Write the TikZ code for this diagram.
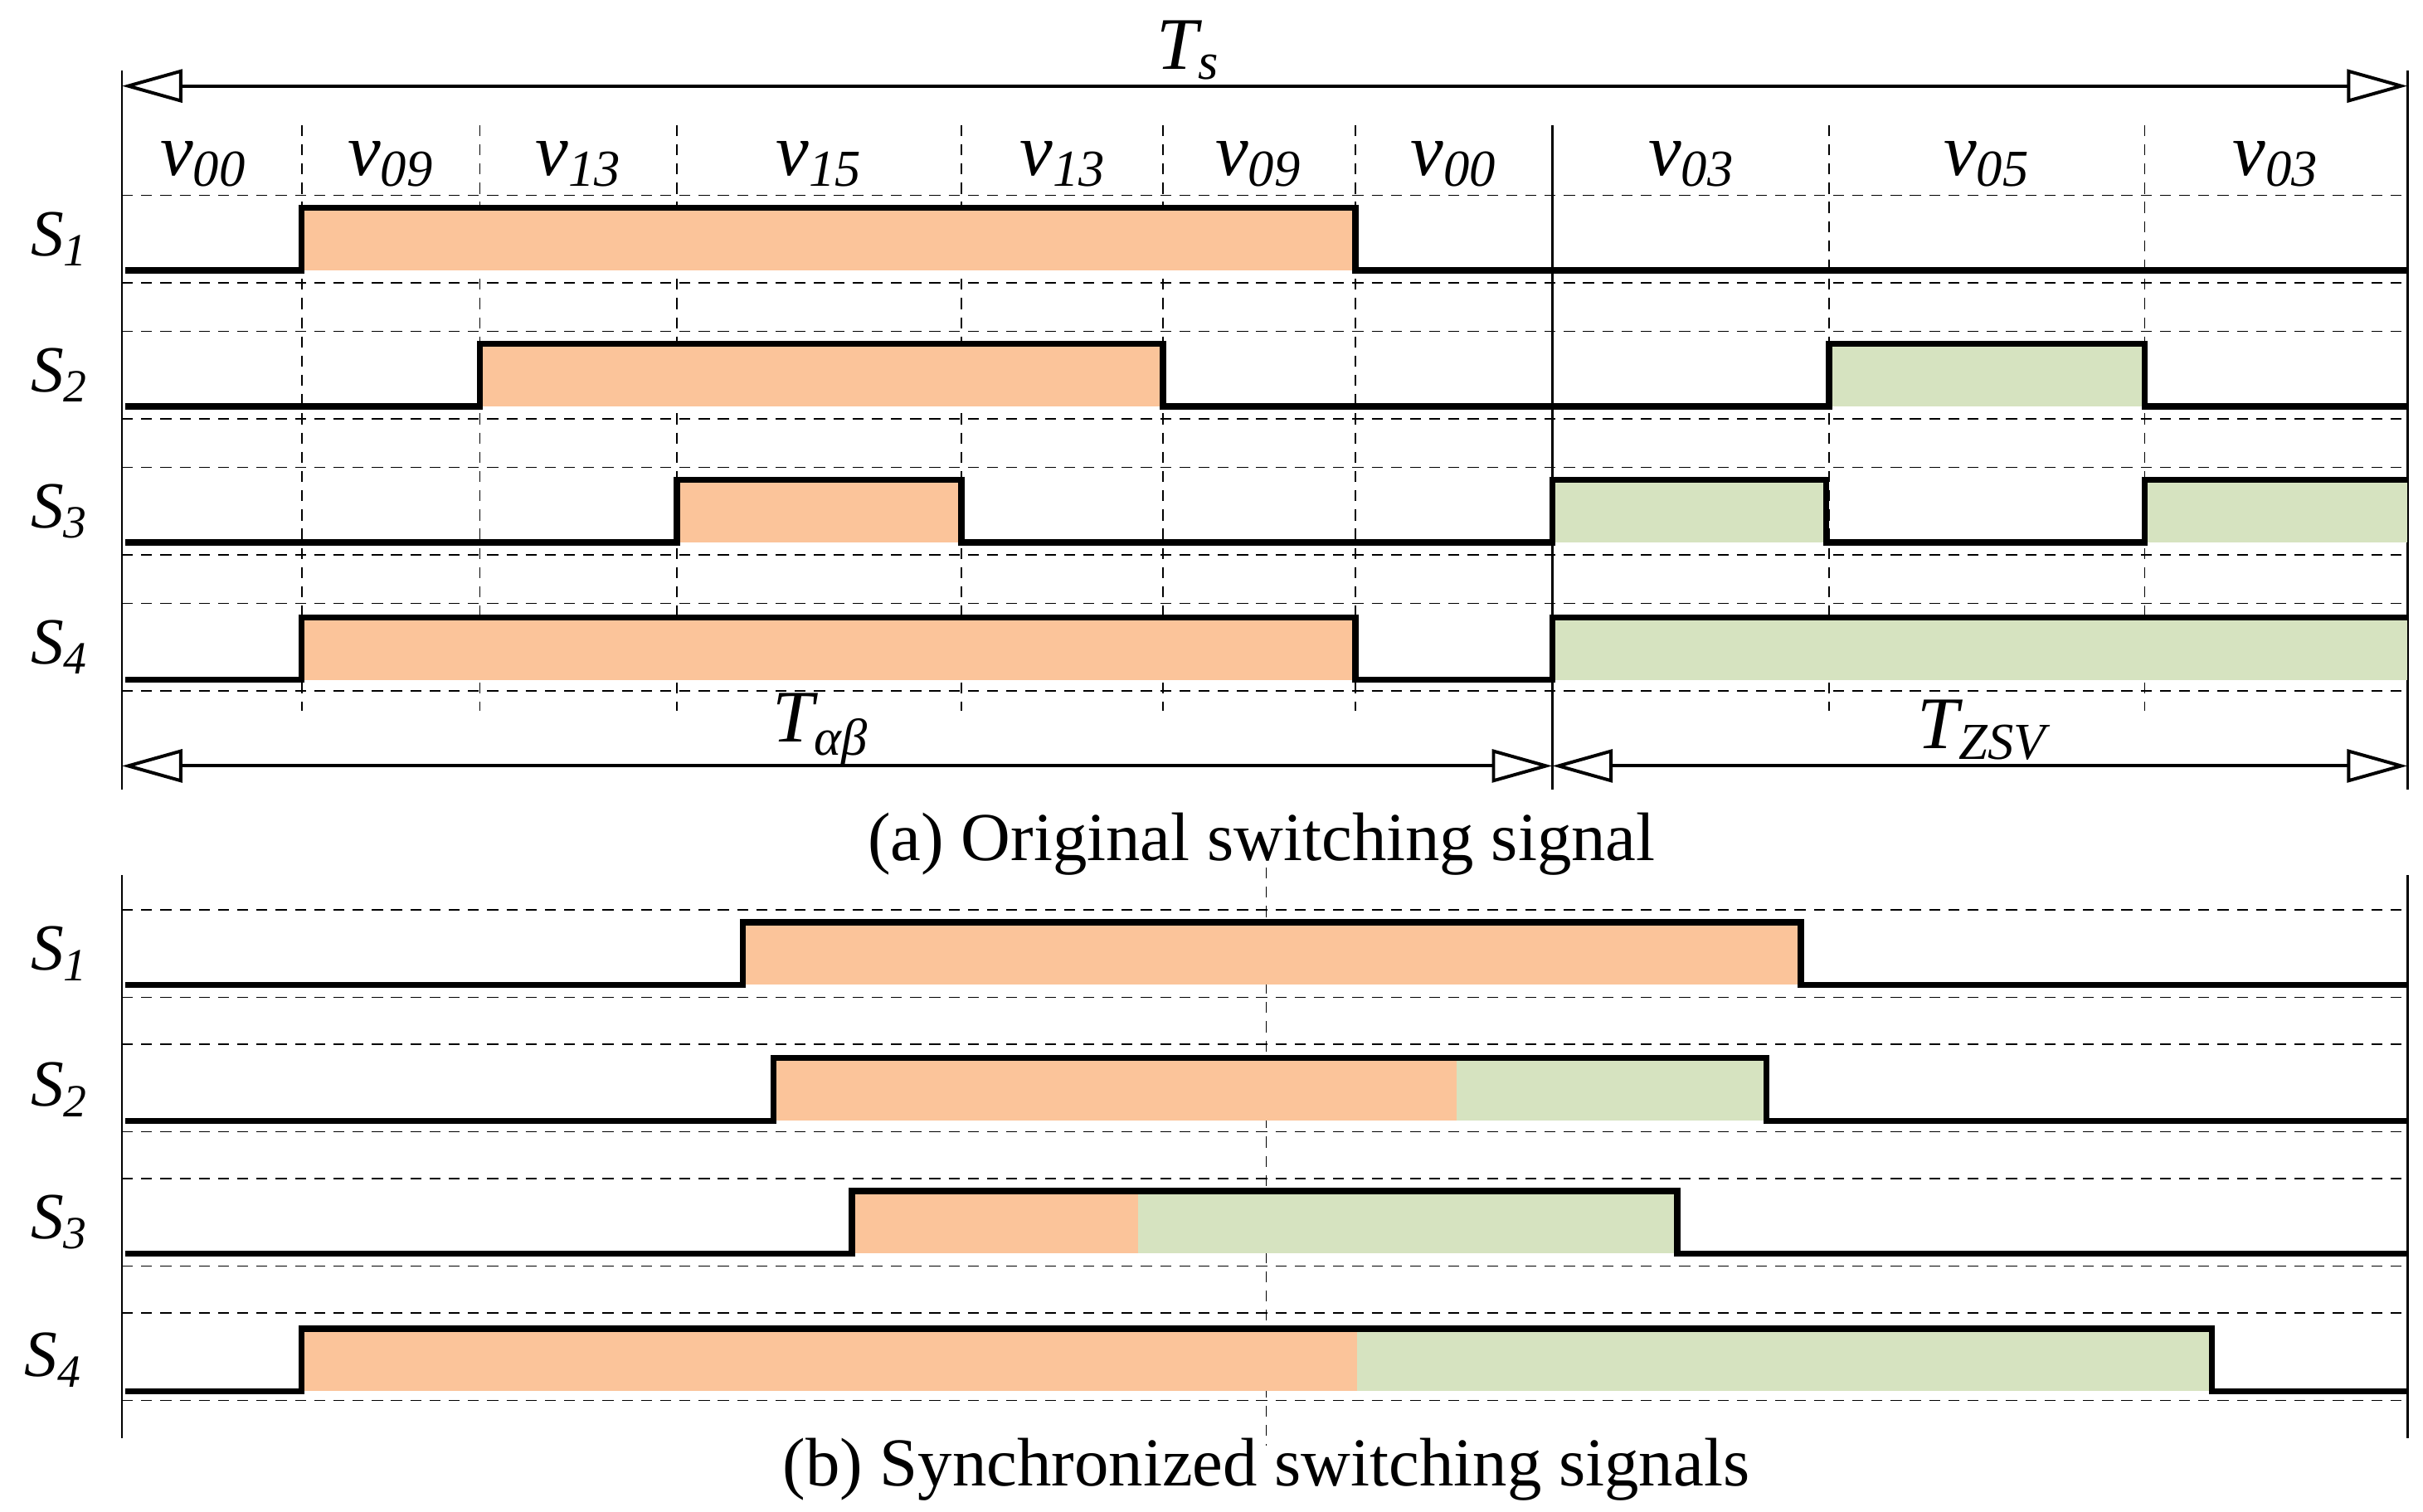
\documentclass[tikz,border=0pt]{standalone}
\usepackage{fontspec}
\setmainfont{Liberation Serif}
\usetikzlibrary{arrows.meta}
\definecolor{onorange}{RGB}{251,196,154}
\definecolor{zsvgreen}{RGB}{214,227,192}
\begin{document}
\begin{tikzpicture}[x=0.02cm, y=-0.02cm]
    \tikzstyle{grid} = [black, line width=0.5pt, dash pattern=on 4pt off 3pt];
    \tikzstyle{frame} = [thick];
    \tikzstyle{signal} = [line width=2.2pt, line join=miter];
    \tikzstyle{span} = [line width=1.2pt, {Triangle[open,length=22pt,width=12pt]}-{Triangle[open,length=22pt,width=12pt]}];
    \tikzstyle{sig-label} = [font=\fontsize{24}{24}\selectfont\itshape];
    \tikzstyle{vec-label} = [font=\fontsize{27}{27}\selectfont\itshape];
    \tikzstyle{caption} = [font=\fontsize{25}{25}\selectfont];
    \useasboundingbox (0,0) rectangle (1550,967);

    % (a) original switching signal
    \draw [frame] (78,45) -- (78,505);
    \draw [frame] (1540,45) -- (1540,505);
    \draw [frame] (993,80) -- (993,505);
    \foreach \x in {193,307,433,615,744,867,1170,1372}
        \draw [grid] (\x,80) -- (\x,455);
    \foreach \y in {0,1,2,3} {
        \draw [grid] (78,125+87*\y) -- (1540,125+87*\y);
        \draw [grid] (78,181+87*\y) -- (1540,181+87*\y);
    }
    \fill [onorange] (193,133) rectangle (867,173);
    \fill [onorange] (307,220) rectangle (744,260);
    \fill [zsvgreen] (1170,220) rectangle (1372,260);
    \fill [onorange] (433,307) rectangle (615,347);
    \fill [zsvgreen] (993,307) rectangle (1168,347);
    \fill [zsvgreen] (1372,307) rectangle (1540,347);
    \fill [onorange] (193,395) rectangle (867,435);
    \fill [zsvgreen] (993,395) rectangle (1540,435);
    \draw [signal] (80,173) -| (193,133) -| (867,173) -- (1540,173);
    \draw [signal] (80,260) -| (307,220) -| (744,260) -| (1170,220) -| (1372,260) -- (1540,260);
    \draw [signal] (80,347) -| (433,307) -| (615,347) -| (993,307) -| (1168,347) -| (1372,307) -- (1540,307);
    \draw [signal] (80,435) -| (193,395) -| (867,435) -| (993,395) -- (1540,395);

    \node [vec-label] (va-1) at (130,105) {v\textsubscript{00}};
    \node [vec-label] (va-2) at (250,105) {v\textsubscript{09}};
    \node [vec-label] (va-3) at (370,105) {v\textsubscript{13}};
    \node [vec-label] (va-4) at (524,105) {v\textsubscript{15}};
    \node [vec-label] (va-5) at (680,105) {v\textsubscript{13}};
    \node [vec-label] (va-6) at (805,105) {v\textsubscript{09}};
    \node [vec-label] (va-7) at (930,105) {v\textsubscript{00}};
    \node [vec-label] (va-8) at (1082,105) {v\textsubscript{03}};
    \node [vec-label] (va-9) at (1271,105) {v\textsubscript{05}};
    \node [vec-label] (va-10) at (1456,105) {v\textsubscript{03}};
    \foreach \i in {1,...,4}
        \node [sig-label] (sa-\i) at (38,153+87*\i-87) {S\textsubscript{\i}};

    \coordinate (ts-l) at (78,55);
    \coordinate (ts-r) at (1540,55);
    \coordinate (tab-l) at (78,490);
    \coordinate (tab-r) at (993,490);
    \coordinate (tz-r) at (1540,490);
    \draw [span] (ts-l) -- (ts-r);
    \draw [span] (tab-l) -- (tab-r);
    \draw [span] (tab-r) -- (tz-r);
    \node [vec-label, fill=white, inner sep=1pt] (ts) at (760,32) {T\textsubscript{s}};
    \node [vec-label] (tab) at (525,467) {T\textsubscript{\textit{αβ}}};
    \node [vec-label] (tz) at (1268,467) {T\textsubscript{ZSV}};
    \node [caption] (cap-a) at (807,540) {(a) Original switching signal};

    % (b) synchronized switching signals
    \draw [frame] (78,560) -- (78,920);
    \draw [frame] (1540,560) -- (1540,920);
    \draw [grid] (810,555) -- (810,925);
    \foreach \y in {0,1,2,3} {
        \draw [grid] (78,582+86*\y) -- (1540,582+86*\y);
        \draw [grid] (78,638+86*\y) -- (1540,638+86*\y);
    }
    \fill [onorange] (475,590) rectangle (1152,630);
    \fill [onorange] (495,677) rectangle (932,717);
    \fill [zsvgreen] (932,677) rectangle (1130,717);
    \fill [onorange] (545,762) rectangle (728,802);
    \fill [zsvgreen] (728,762) rectangle (1073,802);
    \fill [onorange] (193,850) rectangle (868,890);
    \fill [zsvgreen] (868,850) rectangle (1415,890);
    \draw [signal] (80,630) -| (475,590) -| (1152,630) -- (1540,630);
    \draw [signal] (80,717) -| (495,677) -| (1130,717) -- (1540,717);
    \draw [signal] (80,802) -| (545,762) -| (1073,802) -- (1540,802);
    \draw [signal] (80,890) -| (193,850) -| (1415,890) -- (1540,890);
    \node [sig-label] (sb-1) at (38,610) {S\textsubscript{1}};
    \node [sig-label] (sb-2) at (38,697) {S\textsubscript{2}};
    \node [sig-label] (sb-3) at (38,782) {S\textsubscript{3}};
    \node [sig-label] (sb-4) at (34,870) {S\textsubscript{4}};
    \node [caption] (cap-b) at (810,940) {(b) Synchronized switching signals};
\end{tikzpicture}
\end{document}
